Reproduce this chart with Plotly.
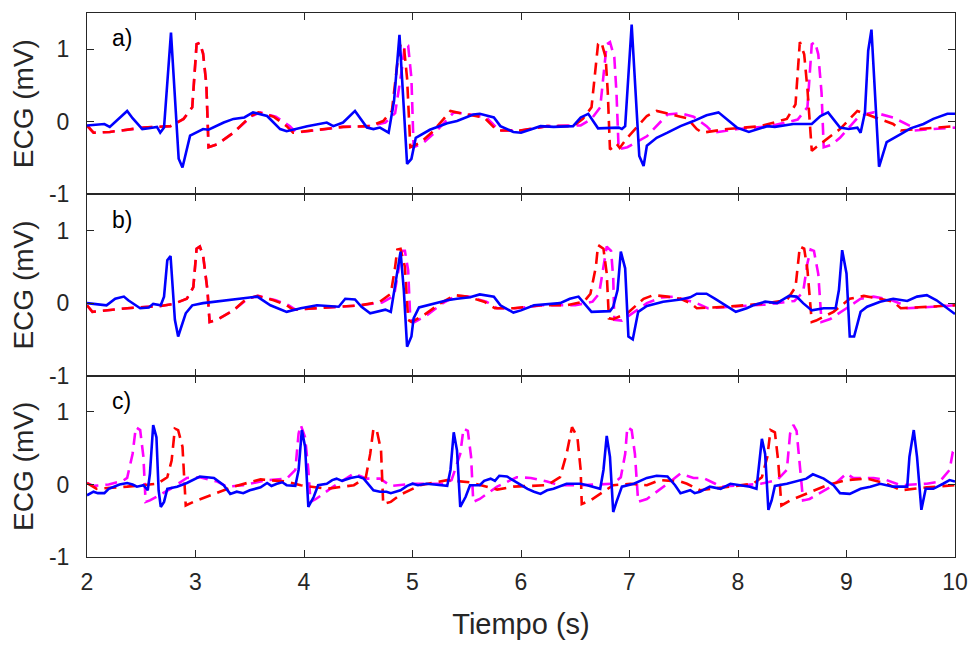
import plotly.graph_objects as go
from plotly.subplots import make_subplots

# ---------------- Panel a) ----------------
t_a_blue = [2.00, 2.12, 2.16, 2.21, 2.37, 2.42, 2.51, 2.57, 2.645, 2.675, 2.71, 2.774, 2.845, 2.88, 2.95,
            3.07, 3.12, 3.26, 3.35, 3.45, 3.53, 3.66, 3.78, 3.84, 4.03, 4.21, 4.27, 4.36, 4.47, 4.58,
            4.64, 4.70, 4.78, 4.83, 4.88, 4.95, 4.99, 5.03, 5.16, 5.32, 5.41, 5.56, 5.62, 5.75, 5.81,
            5.93, 6.00, 6.18, 6.30, 6.48, 6.55, 6.62, 6.71, 6.90, 6.93, 6.96, 7.02, 7.09, 7.13, 7.16,
            7.25, 7.35, 7.47, 7.59, 7.71, 7.82, 7.99, 8.10, 8.27, 8.34, 8.51, 8.68, 8.76, 8.83, 8.94,
            9.02, 9.10, 9.13, 9.17, 9.20, 9.23, 9.30, 9.37, 9.50, 9.59, 9.71, 9.80, 9.93, 10.0]
v_a_blue = [-0.05, -0.04, -0.03, -0.07, 0.15, 0.05, -0.10, -0.09, -0.07, -0.15, -0.08, 1.23, -0.51, -0.63, -0.19,
            -0.10, -0.11, -0.01, 0.04, 0.06, 0.13, 0.08, -0.10, -0.13, -0.06, -0.01, -0.06, -0.01, 0.15, -0.08,
            -0.10, -0.08, -0.15, 0.29, 1.20, -0.58, -0.51, -0.22, -0.11, -0.02, 0.01, 0.10, 0.11, 0.06, -0.06,
            -0.14, -0.15, -0.06, -0.07, -0.06, 0.06, 0.11, -0.09, -0.08, -0.10, -0.06, 1.34, -0.47, -0.61, -0.33,
            -0.22, -0.15, -0.06, 0.01, 0.09, 0.13, -0.08, -0.14, -0.06, -0.07, -0.03, -0.03, 0.08, 0.13, -0.08,
            -0.10, -0.08, -0.15, 0.13, 0.98, 1.27, -0.62, -0.28, -0.17, -0.09, -0.03, 0.04, 0.11, 0.11]

t_a_red = [2.00, 2.06, 2.21, 2.52, 2.77, 2.89, 2.97, 3.01, 3.04, 3.07, 3.10, 3.12, 3.20, 3.35, 3.51,
           3.58, 3.72, 3.84, 3.90, 4.09, 4.36, 4.61, 4.73, 4.81, 4.86, 4.89, 4.92, 4.95, 4.98, 5.07,
           5.19, 5.35, 5.47, 5.66, 5.78, 5.99, 6.24, 6.48, 6.57, 6.65, 6.71, 6.74, 6.78, 6.80, 6.82,
           6.85, 6.88, 6.91, 6.98, 7.16, 7.25, 7.47, 7.53, 7.62, 7.67, 7.90, 8.21, 8.45, 8.53, 8.57,
           8.61, 8.64, 8.68, 8.72, 8.94, 9.10, 9.25, 9.43, 9.50, 10.0]
v_a_red = [-0.05, -0.15, -0.14, -0.08, -0.06, 0.04, 0.20, 1.07, 1.09, 0.94, 0.52, -0.35, -0.31, -0.15, 0.08,
           0.13, 0.07, -0.06, -0.15, -0.12, -0.07, -0.06, 0.01, 0.15, 0.80, 1.07, 1.05, 0.60, -0.35, -0.29,
           -0.13, 0.15, 0.11, 0.06, -0.12, -0.12, -0.06, -0.06, 0.04, 0.20, 1.07, 1.10, 0.89, 0.40, -0.38,
           -0.35, -0.30, -0.36, -0.22, 0.08, 0.15, 0.07, 0.05, -0.10, -0.15, -0.10, -0.06, 0.04, 0.24, 1.10,
           0.93, 0.45, -0.40, -0.35, -0.10, 0.15, 0.07, -0.03, -0.12, -0.06]

t_a_mag = [2.00, 2.06, 2.21, 2.52, 2.77, 2.89, 2.97, 3.01, 3.04, 3.07, 3.10, 3.12, 3.20, 3.35, 3.52,
           3.60, 3.74, 3.87, 3.93, 4.10, 4.36, 4.61, 4.75, 4.84, 4.90, 4.93, 4.96, 4.99, 5.01, 5.10,
           5.22, 5.38, 5.50, 5.68, 5.80, 6.00, 6.24, 6.55, 6.65, 6.73, 6.79, 6.82, 6.86, 6.88, 6.90,
           6.98, 7.16, 7.35, 7.47, 7.59, 7.71, 7.77, 8.00, 8.30, 8.55, 8.64, 8.68, 8.71, 8.74, 8.77,
           8.79, 8.86, 8.94, 9.10, 9.19, 9.25, 9.43, 9.59, 9.62, 9.80, 10.0]
v_a_mag = [-0.05, -0.15, -0.14, -0.08, -0.06, 0.04, 0.20, 1.07, 1.09, 0.94, 0.52, -0.35, -0.31, -0.15, 0.08,
           0.13, 0.07, -0.06, -0.15, -0.12, -0.07, -0.06, -0.01, 0.12, 0.70, 1.07, 1.05, 0.60, -0.35, -0.29,
           -0.13, 0.13, 0.11, 0.06, -0.12, -0.12, -0.06, -0.05, 0.04, 0.20, 1.07, 1.10, 0.89, 0.40, -0.38,
           -0.35, -0.20, 0.10, 0.12, 0.07, -0.06, -0.15, -0.10, -0.06, 0.03, 0.20, 1.07, 1.10, 0.93, 0.40,
           -0.35, -0.32, -0.22, 0.05, 0.11, 0.13, 0.06, -0.06, -0.12, -0.10, -0.08]

# ---------------- Panel b) ----------------
t_b_blue = [2.00, 2.18, 2.26, 2.34, 2.38, 2.49, 2.57, 2.61, 2.68, 2.71, 2.74, 2.77, 2.81, 2.84, 2.91,
            2.97, 3.07, 3.29, 3.44, 3.57, 3.69, 3.84, 3.97, 4.12, 4.32, 4.38, 4.47, 4.53, 4.61, 4.75,
            4.80, 4.84, 4.89, 4.92, 4.95, 4.99, 5.01, 5.06, 5.16, 5.32, 5.41, 5.53, 5.62, 5.75, 5.81,
            5.89, 5.93, 6.00, 6.12, 6.36, 6.45, 6.53, 6.58, 6.65, 6.82, 6.85, 6.89, 6.92, 6.96, 6.99,
            7.03, 7.08, 7.16, 7.31, 7.47, 7.56, 7.62, 7.71, 7.79, 7.88, 7.98, 8.08, 8.14, 8.25, 8.36,
            8.47, 8.54, 8.60, 8.68, 8.79, 8.90, 8.93, 8.96, 9.00, 9.03, 9.07, 9.13, 9.19, 9.31, 9.43,
            9.56, 9.65, 9.74, 9.83, 9.93, 10.0]
v_b_blue = [0.00, -0.03, 0.06, 0.09, 0.04, -0.07, -0.06, -0.01, -0.03, 0.09, 0.59, 0.65, -0.23, -0.46, -0.14,
            -0.03, 0.00, 0.04, 0.06, 0.09, -0.03, -0.12, -0.07, -0.03, -0.05, 0.06, 0.05, -0.05, -0.14, -0.09,
            -0.12, 0.27, 0.71, 0.18, -0.60, -0.46, -0.21, -0.06, -0.02, 0.04, 0.06, 0.08, 0.12, 0.09, -0.03,
            -0.09, -0.13, -0.10, -0.03, 0.00, 0.06, 0.09, 0.00, -0.12, -0.11, -0.05, 0.18, 0.71, 0.48, -0.46,
            -0.50, -0.12, -0.04, 0.02, 0.05, 0.08, 0.13, 0.13, 0.06, -0.03, -0.12, -0.07, -0.03, 0.02, 0.00,
            0.10, 0.09, 0.00, -0.10, -0.07, -0.07, 0.18, 0.73, 0.41, -0.46, -0.46, -0.12, -0.05, 0.02, 0.06,
            0.03, 0.09, 0.11, 0.04, -0.07, -0.15]

t_b_red = [2.00, 2.05, 2.37, 2.68, 2.80, 2.92, 2.98, 3.01, 3.04, 3.07, 3.11, 3.13, 3.20, 3.35, 3.47,
           3.57, 3.72, 3.84, 3.90, 4.21, 4.52, 4.70, 4.80, 4.84, 4.86, 4.89, 4.93, 4.96, 4.99, 5.10,
           5.26, 5.39, 5.50, 5.66, 5.76, 5.93, 6.18, 6.42, 6.58, 6.64, 6.69, 6.71, 6.76, 6.79, 6.81,
           6.85, 6.98, 7.13, 7.22, 7.35, 7.47, 7.56, 7.62, 7.90, 8.21, 8.45, 8.53, 8.57, 8.61, 8.64,
           8.68, 8.72, 8.88, 9.03, 9.16, 9.31, 9.43, 9.50, 9.74, 10.0]
v_b_red = [-0.03, -0.12, -0.07, -0.04, -0.01, 0.06, 0.22, 0.75, 0.78, 0.66, 0.18, -0.26, -0.23, -0.10, 0.06,
           0.10, 0.04, -0.03, -0.09, -0.06, -0.03, 0.02, 0.13, 0.50, 0.74, 0.75, 0.50, -0.23, -0.26, -0.17,
           0.00, 0.11, 0.09, 0.02, -0.07, -0.07, -0.03, -0.03, 0.02, 0.13, 0.50, 0.80, 0.75, 0.41, -0.21,
           -0.22, -0.14, 0.06, 0.11, 0.09, 0.06, 0.00, -0.07, -0.05, -0.01, 0.04, 0.22, 0.78, 0.75, 0.46,
           -0.26, -0.24, -0.12, 0.06, 0.10, 0.06, 0.02, -0.07, -0.05, -0.03]

t_b_mag = [2.00, 2.05, 2.37, 2.68, 2.80, 2.92, 2.98, 3.01, 3.04, 3.07, 3.11, 3.13, 3.20, 3.35, 3.48,
           3.58, 3.74, 3.86, 3.92, 4.21, 4.52, 4.72, 4.83, 4.87, 4.90, 4.93, 4.96, 4.98, 5.02, 5.13,
           5.28, 5.40, 5.52, 5.68, 5.78, 5.95, 6.20, 6.50, 6.66, 6.72, 6.76, 6.79, 6.83, 6.85, 6.86,
           6.93, 7.16, 7.30, 7.41, 7.50, 7.62, 7.72, 7.95, 8.25, 8.52, 8.60, 8.64, 8.67, 8.70, 8.74,
           8.77, 8.85, 9.00, 9.13, 9.25, 9.40, 9.52, 9.56, 9.80, 10.0]
v_b_mag = [-0.03, -0.12, -0.07, -0.04, -0.01, 0.06, 0.22, 0.75, 0.78, 0.66, 0.18, -0.26, -0.23, -0.10, 0.06,
           0.10, 0.04, -0.03, -0.09, -0.06, -0.03, 0.01, 0.10, 0.45, 0.72, 0.72, 0.45, -0.23, -0.26, -0.17,
           0.00, 0.10, 0.09, 0.02, -0.07, -0.07, -0.03, -0.03, 0.02, 0.13, 0.50, 0.78, 0.72, 0.35, -0.23,
           -0.24, 0.00, 0.08, 0.09, 0.05, 0.00, -0.07, -0.05, -0.02, 0.03, 0.15, 0.55, 0.74, 0.72, 0.40,
           -0.26, -0.22, -0.07, 0.06, 0.09, 0.05, -0.02, -0.07, -0.05, -0.03]

# ---------------- Panel c) ----------------
t_c_blue = [2.00, 2.06, 2.10, 2.16, 2.20, 2.25, 2.30, 2.37, 2.42, 2.46, 2.52, 2.56, 2.58, 2.61, 2.64,
            2.66, 2.68, 2.71, 2.74, 2.83, 2.92, 3.04, 3.17, 3.26, 3.32, 3.38, 3.44, 3.50, 3.60, 3.66,
            3.70, 3.75, 3.80, 3.84, 3.92, 3.95, 3.98, 4.01, 4.04, 4.09, 4.13, 4.21, 4.26, 4.30, 4.35,
            4.43, 4.50, 4.55, 4.64, 4.70, 4.76, 4.80, 4.89, 4.95, 5.00, 5.05, 5.13, 5.20, 5.32, 5.35,
            5.38, 5.41, 5.44, 5.49, 5.53, 5.62, 5.66, 5.72, 5.76, 5.80, 5.87, 5.96, 6.06, 6.12, 6.18,
            6.24, 6.30, 6.42, 6.55, 6.61, 6.73, 6.76, 6.79, 6.82, 6.85, 6.88, 6.93, 7.04, 7.16, 7.25,
            7.35, 7.42, 7.47, 7.56, 7.60, 7.65, 7.74, 7.84, 7.93, 8.02, 8.11, 8.17, 8.22, 8.25, 8.28,
            8.31, 8.34, 8.45, 8.57, 8.63, 8.69, 8.79, 8.88, 8.94, 9.03, 9.13, 9.22, 9.31, 9.43, 9.56,
            9.58, 9.62, 9.65, 9.69, 9.73, 9.80, 9.89, 9.95, 10.0]
v_c_blue = [-0.15, -0.10, -0.12, -0.12, -0.06, -0.03, 0.00, 0.02, 0.00, -0.03, -0.01, -0.08, 0.15, 0.82, 0.65,
            -0.08, -0.31, -0.24, -0.06, -0.03, 0.02, 0.11, 0.09, -0.01, -0.13, -0.10, -0.12, -0.08, -0.04, 0.02,
            -0.02, 0.01, 0.03, -0.01, -0.02, 0.20, 0.75, 0.52, -0.31, -0.17, -0.01, 0.01, 0.06, 0.08, 0.05,
            0.09, 0.11, 0.08, -0.08, -0.10, -0.10, -0.12, -0.08, -0.02, 0.01, -0.01, 0.01, 0.00, -0.02, 0.20,
            0.72, 0.47, -0.31, -0.17, -0.01, -0.01, 0.05, 0.08, 0.05, 0.12, 0.11, 0.03, -0.06, -0.10, -0.13,
            -0.08, -0.06, 0.01, 0.01, -0.01, -0.06, 0.20, 0.67, 0.38, -0.38, -0.24, -0.03, 0.01, 0.09, 0.12,
            0.11, -0.01, -0.12, -0.08, -0.12, -0.10, -0.03, -0.06, 0.01, -0.01, -0.03, -0.06, 0.63, 0.42, -0.35,
            -0.22, -0.02, 0.01, 0.06, 0.08, 0.14, 0.08, -0.01, -0.12, -0.13, -0.06, -0.03, 0.01, -0.03, -0.03,
            0.38, 0.75, 0.38, -0.35, -0.06, -0.06, 0.01, 0.06, 0.04]

t_c_red = [2.00, 2.09, 2.37, 2.65, 2.74, 2.78, 2.81, 2.84, 2.88, 2.91, 2.98, 3.14, 3.35, 3.60, 3.84,
           3.97, 4.21, 4.46, 4.57, 4.61, 4.64, 4.67, 4.71, 4.73, 4.80, 4.89, 5.07, 5.32, 5.53, 5.78,
           5.93, 6.24, 6.36, 6.42, 6.47, 6.52, 6.55, 6.56, 6.64, 6.85, 7.01, 7.16, 7.28, 7.47, 7.53,
           7.65, 7.90, 8.14, 8.22, 8.27, 8.30, 8.34, 8.37, 8.40, 8.48, 8.63, 8.82, 9.00, 9.19, 9.37,
           9.50, 9.74, 10.0]
v_c_red = [0.02, -0.06, -0.03, 0.01, 0.10, 0.33, 0.77, 0.75, 0.52, -0.29, -0.24, -0.15, -0.03, 0.07, 0.04,
           -0.01, -0.06, -0.01, 0.10, 0.42, 0.77, 0.75, 0.47, -0.27, -0.24, -0.14, -0.01, 0.06, 0.03, -0.07,
           -0.03, -0.01, 0.10, 0.42, 0.79, 0.65, 0.20, -0.27, -0.22, -0.01, 0.01, -0.01, 0.06, 0.04, 0.01,
           -0.08, -0.03, 0.01, 0.10, 0.38, 0.75, 0.72, 0.33, -0.29, -0.22, -0.13, -0.01, 0.06, 0.08, 0.01,
           -0.08, -0.04, -0.01]

t_c_mag = [2.00, 2.06, 2.20, 2.33, 2.37, 2.42, 2.45, 2.49, 2.52, 2.54, 2.58, 2.77, 2.92, 3.04, 3.20,
           3.29, 3.44, 3.66, 3.84, 3.92, 3.95, 3.97, 4.01, 4.04, 4.06, 4.11, 4.27, 4.46, 4.58, 4.70,
           4.80, 5.01, 5.29, 5.36, 5.44, 5.47, 5.51, 5.54, 5.56, 5.62, 5.78, 5.96, 6.09, 6.24, 6.35,
           6.55, 6.85, 6.92, 6.96, 6.98, 7.02, 7.05, 7.08, 7.16, 7.35, 7.47, 7.59, 7.68, 7.79, 7.84,
           8.05, 8.21, 8.36, 8.45, 8.48, 8.51, 8.54, 8.57, 8.60, 8.66, 8.88, 9.00, 9.06, 9.25, 9.37,
           9.50, 9.74, 9.86, 9.95, 9.98, 10.0]
v_c_mag = [0.02, -0.02, 0.00, 0.05, 0.09, 0.42, 0.79, 0.75, 0.38, -0.24, -0.22, -0.06, 0.09, 0.10, 0.04,
           -0.03, -0.01, 0.06, 0.08, 0.20, 0.70, 0.82, 0.65, 0.20, -0.24, -0.20, -0.03, 0.15, 0.08, 0.08,
           -0.02, 0.01, 0.01, 0.06, 0.42, 0.77, 0.74, 0.38, -0.24, -0.20, -0.03, 0.10, 0.09, 0.04, -0.01,
           -0.01, 0.01, 0.10, 0.42, 0.79, 0.75, 0.42, -0.24, -0.20, 0.01, 0.15, 0.09, 0.09, 0.01, -0.03,
           -0.01, 0.01, 0.06, 0.20, 0.70, 0.82, 0.74, 0.29, -0.22, -0.20, -0.01, 0.15, 0.09, 0.09, 0.06,
           -0.01, 0.01, 0.04, 0.20, 0.45, 0.48]

panel_labels = ["a)", "b)", "c)"]
x_ticks = [2, 3, 4, 5, 6, 7, 8, 9, 10]
y_ticks = [-1, 0, 1]
y_tick_text = ["-1", "0", "1"]

panels = [
    (t_a_mag, v_a_mag, t_a_red, v_a_red, t_a_blue, v_a_blue),
    (t_b_mag, v_b_mag, t_b_red, v_b_red, t_b_blue, v_b_blue),
    (t_c_mag, v_c_mag, t_c_red, v_c_red, t_c_blue, v_c_blue),
]

FONT = "Liberation Sans"
AX = "#262626"

fig = make_subplots(rows=3, cols=1, shared_xaxes=True, vertical_spacing=0)

for i, (tm, vm, tr, vr, tb, vb) in enumerate(panels):
    r = i + 1
    fig.add_trace(go.Scatter(x=tm, y=vm, mode="lines", line=dict(color="#FF00FF", width=2.6, dash="12px,7px"),
                             showlegend=False, hoverinfo="skip"), row=r, col=1)
    fig.add_trace(go.Scatter(x=tr, y=vr, mode="lines", line=dict(color="#FF0000", width=2.6, dash="12px,7px"),
                             showlegend=False, hoverinfo="skip"), row=r, col=1)
    fig.add_trace(go.Scatter(x=tb, y=vb, mode="lines", line=dict(color="#0000FF", width=2.6),
                             showlegend=False, hoverinfo="skip"), row=r, col=1)
    fig.update_xaxes(row=r, col=1, range=[2, 10], tickvals=x_ticks, ticks="inside", ticklen=7, tickwidth=1,
                     tickcolor=AX, showline=True, linecolor=AX, linewidth=1, mirror="ticks",
                     showgrid=False, zeroline=False, showticklabels=(r == 3), ticklabelstandoff=4,
                     tickfont=dict(family=FONT, size=23, color="#262626"))
    fig.update_yaxes(row=r, col=1, range=[-1, 1.5], tickvals=y_ticks, ticktext=y_tick_text, ticks="inside",
                     ticklen=7, tickwidth=1, tickcolor=AX, showline=True, linecolor=AX, linewidth=1,
                     mirror="ticks", showgrid=False, zeroline=False, ticklabelstandoff=12,
                     tickfont=dict(family=FONT, size=23, color="#262626"),
                     title=dict(text="ECG (mV)", font=dict(family=FONT, size=28, color="#262626"), standoff=7))
    fig.add_annotation(text=panel_labels[i], xref=f"x{'' if r == 1 else r} domain", yref=f"y{'' if r == 1 else r}",
                       x=0.026, y=1.15, xanchor="left", yanchor="middle", showarrow=False,
                       font=dict(family=FONT, size=23, color="#000000"))

fig.update_xaxes(row=3, col=1, title=dict(text="Tiempo (s)", font=dict(family=FONT, size=29, color="#262626"),
                                          standoff=20))

fig.update_layout(width=976, height=645, margin=dict(l=87, r=21, t=13, b=88, autoexpand=False),
                  plot_bgcolor="white", paper_bgcolor="white", hovermode=False)

fig.write_html("out.html", config={"displayModeBar": False},
               post_script="document.body.style.margin='0';")
